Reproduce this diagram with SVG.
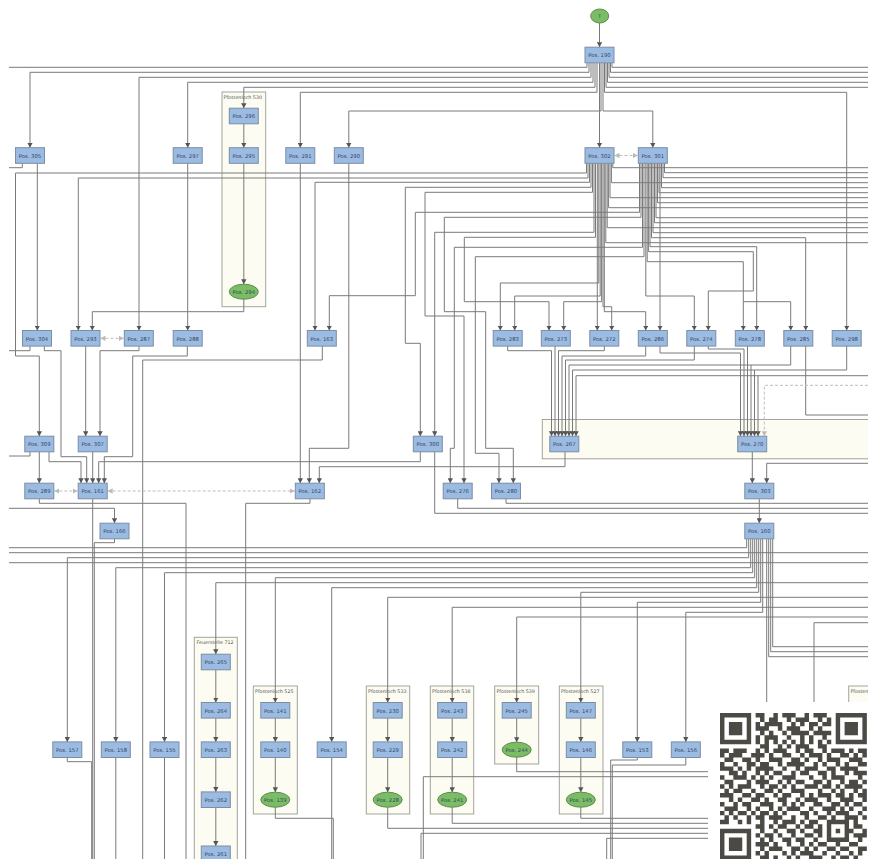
<svg xmlns="http://www.w3.org/2000/svg" width="873" height="859" viewBox="0 0 873 859">
<defs>
<style>
.n rect{fill:#9bbbe3;stroke:#7b8ea3;stroke-width:1}
.n text,.e text{font-family:"DejaVu Sans",Verdana,sans-serif;font-size:5.3px;fill:#34475c;text-anchor:middle;dominant-baseline:central}
.e ellipse{fill:#7bbd65;stroke:#5d8a52;stroke-width:1}
.c rect{fill:#fcfcf3;stroke:#a3a39c;stroke-width:1}
.c text{font-family:"DejaVu Sans",Verdana,sans-serif;font-size:4.8px;fill:#555}
#connectors path{fill:none;stroke:#7a7a7a;stroke-width:1}
#connectors .ar{marker-end:url(#a)}
#connectors .d{stroke:#bdbdbd;stroke-dasharray:3 2;marker-start:url(#b);marker-end:url(#b)}
#connectors .d1{stroke:#bdbdbd;stroke-dasharray:3 2;marker-end:url(#b)}
</style>
<marker id="a" markerUnits="userSpaceOnUse" markerWidth="5" markerHeight="5.4" viewBox="0 0 5 5.4" refX="5" refY="2.7" orient="auto"><path d="M0 0L5 2.7L0 5.4z" fill="#555"/></marker>
<marker id="b" markerUnits="userSpaceOnUse" markerWidth="5" markerHeight="5.4" viewBox="0 0 5 5.4" refX="5" refY="2.7" orient="auto-start-reverse"><path d="M0 0L5 2.7L0 5.4z" fill="#bbb"/></marker>
<clipPath id="view"><rect x="9" y="0" width="859" height="859"/></clipPath>
</defs>
<rect width="873" height="859" fill="#fff"/>
<g clip-path="url(#view)">
<g id="containers" class="c">
<g id="c530"><rect x="222" y="92" width="43.7" height="214.7"/><text x="223.5" y="98.5">Pfostenloch 530</text></g>
<g id="c267"><rect x="542.3" y="419.5" width="340" height="39.3"/></g>
<g id="c712"><rect x="194.3" y="637.3" width="43" height="240"/><text x="196.5" y="643.8">Feuerstelle 712</text></g>
<g id="c525"><rect x="253.3" y="686" width="44" height="128"/><text x="255" y="692.5">Pfostenloch 525</text></g>
<g id="c533"><rect x="366.3" y="686" width="43.4" height="128"/><text x="368" y="692.5">Pfostenloch 533</text></g>
<g id="c538"><rect x="430.3" y="686" width="43.4" height="128"/><text x="432" y="692.5">Pfostenloch 538</text></g>
<g id="c539"><rect x="494.7" y="686" width="44" height="78"/><text x="496.4" y="692.5">Pfostenloch 539</text></g>
<g id="c527"><rect x="559.3" y="686" width="43.7" height="128"/><text x="561" y="692.5">Pfostenloch 527</text></g>
<g id="cx"><rect x="848.7" y="686" width="60" height="100"/><text x="850.4" y="692.5">Pfosten</text></g>
</g>
<g id="connectors">
<path class="ar" d="M599.5 23V47.2"/>
<path class="ar" d="M589 62.8V72.3H30V147.7"/>
<path class="ar" d="M591 62.8V77.3H139V330.5"/>
<path class="ar" d="M593 62.8V82.3H187.7V147.7"/>
<path class="ar" d="M595 62.8V87.3H243.8V108.2"/>
<path class="ar" d="M597 62.8V92.3H300.3V147.7"/>
<path class="ar" d="M601 62.8V111H348.8V147.7"/>
<path class="ar" d="M599.5 62.8V147.7"/>
<path class="ar" d="M603 62.8V111H652.8V147.7"/>
<path class="ar" d="M604.5 62.8V92.3H846.7V330.5"/>
<path d="M587 62.8V67.3H9"/>
<path d="M612 62.8V67.3H868"/>
<path d="M610.5 62.8V72.3H868"/>
<path d="M609 62.8V77.3H868"/>
<path d="M607.5 62.8V82.3H868"/>
<path d="M606 62.8V87.3H868"/>
<path class="ar" d="M243.8 123.8V147.7"/>
<path class="ar" d="M243.8 163.3V284.2"/>
<path class="ar" d="M243.8 299.2V311.7H92.3V330.5"/>
<path class="ar" d="M37.3 163.3V330.5"/>
<path d="M22.3 163.3V167.7H9"/>
<path class="ar" d="M187.7 163.3V330.5"/>
<path class="ar" d="M300.3 163.3V483.2"/>
<path class="ar" d="M348.8 163.3V448.3H309.3V483.2"/>
<path class="ar" d="M586.5 163.3V173H15.5V356H39.3V436.2"/>
<path class="ar" d="M588 163.3V178H78.3V330.5"/>
<path class="ar" d="M589.5 163.3V182.3H315V330.5"/>
<path class="ar" d="M591 163.3V187.3H405.3V343.3H420.3V436.2"/>
<path class="ar" d="M592.5 163.3V192.3H425V316H464V483.2"/>
<path class="ar" d="M594 163.3V232.3H434.7V436.2"/>
<path class="ar" d="M595.5 163.3V237.3H464.3V301.7H549V330.5"/>
<path class="ar" d="M597.3 163.3V330.5"/>
<path class="ar" d="M598.8 163.3V283H500.3V330.5"/>
<path class="ar" d="M600.2 163.3V296H514.7V330.5"/>
<path class="ar" d="M601.6 163.3V301.7H563.7V330.5"/>
<path class="ar" d="M603 163.3V306.7H611.7V330.5"/>
<path class="ar" d="M604.3 163.3V311.7H645.7V330.5"/>
<path d="M605.8 163.3V242.7H868"/>
<path d="M607.2 163.3V227.7H868"/>
<path d="M608.6 163.3V207.7H868"/>
<path d="M610 163.3V197.7H868"/>
<path d="M611.4 163.3V182.7H868"/>
<path d="M612.8 163.3V167.7H868"/>
<path class="ar" d="M639.5 163.3V212.3H415.3V295.7H329.3V330.5"/>
<path class="ar" d="M641 163.3V217.3H444.3V311.7H485.7V448.3H513.3V483.2"/>
<path class="ar" d="M642.5 163.3V247.3H454.3V448.3H450.3V483.2"/>
<path class="ar" d="M644 163.3V256.7H475.3V453.3H499V483.2"/>
<path class="ar" d="M645.8 163.3V296H694.3V330.5"/>
<path class="ar" d="M647.2 163.3V261.7H743.3V330.5"/>
<path class="ar" d="M743.3 301.7H790.7V330.5"/>
<path class="ar" d="M648.6 163.3V251.7H753.3V291H708.3V330.5"/>
<path class="ar" d="M650 163.3V246.7H756.7V330.5"/>
<path class="ar" d="M660 163.3V330.5"/>
<path class="ar" d="M651.5 163.3V237.7H805.7V330.5"/>
<path d="M653 163.3V232.7H868"/>
<path d="M654.5 163.3V222.7H868"/>
<path d="M656 163.3V217.7H868"/>
<path d="M657.5 163.3V202.7H868"/>
<path d="M659 163.3V192.7H868"/>
<path d="M661.5 163.3V187.7H868"/>
<path d="M663 163.3V177.7H868"/>
<path d="M664.5 163.3V172.7H868"/>
<path class="ar" d="M85.7 346.1V436.2"/>
<path class="ar" d="M139 346.1V350.7H100V436.2"/>
<path class="ar" d="M44.3 346.1V350.7H61V456.7H86.7V483.2"/>
<path class="ar" d="M49 451.8V461.7H81V483.2"/>
<path class="ar" d="M39.3 451.8V483.2"/>
<path class="ar" d="M92.7 451.8V483.2"/>
<path class="ar" d="M187.3 346.1V356H132.7V456.7H104.3V483.2"/>
<path class="ar" d="M420.3 451.8V461.7H98.7V483.2"/>
<path class="ar" d="M565 451.8V466.7H319.3V483.2"/>
<path class="ar" d="M9 508.3H114.5V523.2"/>
<path class="ar" d="M752.3 451.8V483.2"/>
<path class="ar" d="M868 463.3H766.7V483.2"/>
<path class="ar" d="M759.3 498.8V523.2"/>
<path class="ar" d="M846.7 346.1V370H572.5V436.2"/>
<path class="ar" d="M754.5 370V436.2"/>
<path class="ar" d="M507.7 346.1V350.7H551.5V436.2"/>
<path class="ar" d="M555 346.1V436.2"/>
<path class="ar" d="M604.3 346.1V350.7H558.5V436.2"/>
<path class="ar" d="M645.7 346.1V356H562V436.2"/>
<path class="ar" d="M660 346.1V353H740.5V436.2"/>
<path class="ar" d="M694.3 346.1V360H565.5V436.2"/>
<path class="ar" d="M708.3 346.1V349H744V436.2"/>
<path class="ar" d="M747.5 346.1V436.2"/>
<path class="ar" d="M790.7 346.1V365H569V436.2"/>
<path class="ar" d="M751 365V436.2"/>
<path class="ar" d="M868 375.7H576V436.2"/>
<path class="ar" d="M758 375.7V436.2"/>
<path d="M30 346.1V350.7H9"/>
<path d="M30 451.8V456H9"/>
<path d="M322.3 346.1V360H142.7V859"/>
<path d="M805.7 346.1V415H868"/>
<path d="M434.7 451.8V513.3H868"/>
<path d="M457.7 498.8V508.3H868"/>
<path d="M506 498.8V503.3H868"/>
<path d="M39.3 498.8V503.3H186V859"/>
<path d="M310 498.8V503.3H245.7V859"/>
<path d="M92.7 498.8V859"/>
<path d="M114.5 538.8V542.7H94.3V859"/>
<path class="ar" d="M748.7 538.8V557.7H67.3V741.9"/>
<path class="ar" d="M750.7 538.8V567.7H115.8V741.9"/>
<path class="ar" d="M752.7 538.8V572.7H164.5V741.9"/>
<path class="ar" d="M754.7 538.8V577.7H275.3V702.5"/>
<path class="ar" d="M756.7 538.8V587.7H331.7V741.9"/>
<path class="ar" d="M758.7 538.8V592.3H580.8V702.5"/>
<path class="ar" d="M760.7 538.8V602.3H637.3V741.9"/>
<path class="ar" d="M762.7 538.8V612.3H685.8V741.9"/>
<path class="ar" d="M868 582.7H215.8V654.2"/>
<path class="ar" d="M868 597.3H387.7V702.5"/>
<path class="ar" d="M868 607.3H452.2V702.5"/>
<path class="ar" d="M868 617H516.7V702.5"/>
<path d="M746.7 538.8V547.7H9"/>
<path d="M766.7 538.8V702"/>
<path d="M768.7 538.8V656.7H868"/>
<path d="M770.7 538.8V651.7H868"/>
<path d="M772.7 538.8V646.7H868"/>
<path d="M868 552.7H9"/>
<path d="M868 562.7H9"/>
<path d="M868 622.7H814V702"/>
<path class="ar" d="M215.8 669.8V702.5"/>
<path class="ar" d="M215.8 718.1V741.9"/>
<path class="ar" d="M215.8 757.5V791.9"/>
<path class="ar" d="M215.8 807.5V846"/>
<path class="ar" d="M275.3 718.1V741.9"/>
<path class="ar" d="M275.3 757.5V792.2"/>
<path class="ar" d="M387.7 718.1V741.9"/>
<path class="ar" d="M387.7 757.5V792.2"/>
<path class="ar" d="M452.2 718.1V741.9"/>
<path class="ar" d="M452.2 757.5V792.2"/>
<path class="ar" d="M516.7 718.1V742.2"/>
<path class="ar" d="M580.8 718.1V741.9"/>
<path class="ar" d="M580.8 757.5V792.2"/>
<path d="M275.3 807.2V818.3H333.3V859"/>
<path d="M387.7 807.2V828.3H708"/>
<path d="M452.2 807.2V823.3H708"/>
<path d="M516.7 757.2V771.7H708"/>
<path d="M580.8 807.2V818.3H708"/>
<path d="M67.3 757.5V761.7H91.7V859"/>
<path d="M115.8 757.5V859"/>
<path d="M164.5 757.5V859"/>
<path d="M331.7 757.5V859"/>
<path d="M637.3 757.5V760H610.7V859"/>
<path d="M685.8 757.5V765H612.3V859"/>
<path d="M708 776.7H423.3V859"/>
<path d="M708 833.3H421V859"/>
<path d="M708 838.3H606.7V859"/>
<path class="d" d="M614.5 155.5H637.8"/>
<path class="d" d="M100.5 338.3H123.8"/>
<path class="d" d="M54.3 491H77.7"/>
<path class="d" d="M107.7 491H294.8"/>
<path class="d1" d="M868 385.3H764.3V436.2"/>
</g>
<g id="nodes">
<g id="nT" class="e"><ellipse cx="599.7" cy="16" rx="9" ry="7"/><text x="599.7" y="16.2">T</text></g>
<g id="n190" class="n"><rect x="585" y="47.2" width="29" height="15.6"/><text x="599.5" y="55.2">Pos. 190</text></g>
<g id="n296" class="n"><rect x="229.3" y="108.2" width="29" height="15.6"/><text x="243.8" y="116.2">Pos. 296</text></g>
<g id="n305" class="n"><rect x="15.5" y="147.7" width="29" height="15.6"/><text x="30" y="155.7">Pos. 305</text></g>
<g id="n297" class="n"><rect x="173.2" y="147.7" width="29" height="15.6"/><text x="187.7" y="155.7">Pos. 297</text></g>
<g id="n295" class="n"><rect x="229.3" y="147.7" width="29" height="15.6"/><text x="243.8" y="155.7">Pos. 295</text></g>
<g id="n291" class="n"><rect x="285.8" y="147.7" width="29" height="15.6"/><text x="300.3" y="155.7">Pos. 291</text></g>
<g id="n290" class="n"><rect x="334.3" y="147.7" width="29" height="15.6"/><text x="348.8" y="155.7">Pos. 290</text></g>
<g id="n302" class="n"><rect x="585" y="147.7" width="29" height="15.6"/><text x="599.5" y="155.7">Pos. 302</text></g>
<g id="n301" class="n"><rect x="638.3" y="147.7" width="29" height="15.6"/><text x="652.8" y="155.7">Pos. 301</text></g>
<g id="n294" class="e"><ellipse cx="243.8" cy="291.7" rx="14.5" ry="7.5"/><text x="243.8" y="291.9">Pos. 294</text></g>
<g id="n304" class="n"><rect x="22.5" y="330.5" width="29" height="15.6"/><text x="37" y="338.5">Pos. 304</text></g>
<g id="n293" class="n"><rect x="71" y="330.5" width="29" height="15.6"/><text x="85.5" y="338.5">Pos. 293</text></g>
<g id="n287" class="n"><rect x="124.3" y="330.5" width="29" height="15.6"/><text x="138.8" y="338.5">Pos. 287</text></g>
<g id="n288" class="n"><rect x="173.2" y="330.5" width="29" height="15.6"/><text x="187.7" y="338.5">Pos. 288</text></g>
<g id="n163" class="n"><rect x="307.3" y="330.5" width="29" height="15.6"/><text x="321.8" y="338.5">Pos. 163</text></g>
<g id="n283" class="n"><rect x="493.2" y="330.5" width="29" height="15.6"/><text x="507.7" y="338.5">Pos. 283</text></g>
<g id="n273" class="n"><rect x="541.3" y="330.5" width="29" height="15.6"/><text x="555.8" y="338.5">Pos. 273</text></g>
<g id="n272" class="n"><rect x="589.8" y="330.5" width="29" height="15.6"/><text x="604.3" y="338.5">Pos. 272</text></g>
<g id="n286" class="n"><rect x="638.3" y="330.5" width="29" height="15.6"/><text x="652.8" y="338.5">Pos. 286</text></g>
<g id="n274" class="n"><rect x="686.8" y="330.5" width="29" height="15.6"/><text x="701.3" y="338.5">Pos. 274</text></g>
<g id="n278" class="n"><rect x="735.3" y="330.5" width="29" height="15.6"/><text x="749.8" y="338.5">Pos. 278</text></g>
<g id="n285" class="n"><rect x="783.8" y="330.5" width="29" height="15.6"/><text x="798.3" y="338.5">Pos. 285</text></g>
<g id="n298" class="n"><rect x="832.2" y="330.5" width="29" height="15.6"/><text x="846.7" y="338.5">Pos. 298</text></g>
<g id="n309" class="n"><rect x="24.8" y="436.2" width="29" height="15.6"/><text x="39.3" y="444.2">Pos. 309</text></g>
<g id="n307" class="n"><rect x="78.2" y="436.2" width="29" height="15.6"/><text x="92.7" y="444.2">Pos. 307</text></g>
<g id="n300" class="n"><rect x="413.3" y="436.2" width="29" height="15.6"/><text x="427.8" y="444.2">Pos. 300</text></g>
<g id="n267" class="n"><rect x="549.8" y="436.2" width="29" height="15.6"/><text x="564.3" y="444.2">Pos. 267</text></g>
<g id="n270" class="n"><rect x="737.7" y="436.2" width="29" height="15.6"/><text x="752.2" y="444.2">Pos. 270</text></g>
<g id="n289" class="n"><rect x="24.8" y="483.2" width="29" height="15.6"/><text x="39.3" y="491.2">Pos. 289</text></g>
<g id="n161" class="n"><rect x="78.2" y="483.2" width="29" height="15.6"/><text x="92.7" y="491.2">Pos. 161</text></g>
<g id="n162" class="n"><rect x="295.3" y="483.2" width="29" height="15.6"/><text x="309.8" y="491.2">Pos. 162</text></g>
<g id="n276" class="n"><rect x="443.2" y="483.2" width="29" height="15.6"/><text x="457.7" y="491.2">Pos. 276</text></g>
<g id="n280" class="n"><rect x="491.5" y="483.2" width="29" height="15.6"/><text x="506" y="491.2">Pos. 280</text></g>
<g id="n303" class="n"><rect x="744.8" y="483.2" width="29" height="15.6"/><text x="759.3" y="491.2">Pos. 303</text></g>
<g id="n166" class="n"><rect x="100" y="523.2" width="29" height="15.6"/><text x="114.5" y="531.2">Pos. 166</text></g>
<g id="n160" class="n"><rect x="744.8" y="523.2" width="29" height="15.6"/><text x="759.3" y="531.2">Pos. 160</text></g>
<g id="n265" class="n"><rect x="201.3" y="654.2" width="29" height="15.6"/><text x="215.8" y="662.2">Pos. 265</text></g>
<g id="n264" class="n"><rect x="201.3" y="702.5" width="29" height="15.6"/><text x="215.8" y="710.5">Pos. 264</text></g>
<g id="n263" class="n"><rect x="201.3" y="741.9" width="29" height="15.6"/><text x="215.8" y="749.9">Pos. 263</text></g>
<g id="n262" class="n"><rect x="201.3" y="791.9" width="29" height="15.6"/><text x="215.8" y="799.9">Pos. 262</text></g>
<g id="n261" class="n"><rect x="201.3" y="846" width="29" height="15.6"/><text x="215.8" y="854">Pos. 261</text></g>
<g id="n141" class="n"><rect x="260.8" y="702.5" width="29" height="15.6"/><text x="275.3" y="710.5">Pos. 141</text></g>
<g id="n140" class="n"><rect x="260.8" y="741.9" width="29" height="15.6"/><text x="275.3" y="749.9">Pos. 140</text></g>
<g id="n139" class="e"><ellipse cx="275.3" cy="799.7" rx="14.5" ry="7.5"/><text x="275.3" y="799.9">Pos. 139</text></g>
<g id="n157" class="n"><rect x="52.8" y="741.9" width="29" height="15.6"/><text x="67.3" y="749.9">Pos. 157</text></g>
<g id="n158" class="n"><rect x="101.3" y="741.9" width="29" height="15.6"/><text x="115.8" y="749.9">Pos. 158</text></g>
<g id="n155" class="n"><rect x="150" y="741.9" width="29" height="15.6"/><text x="164.5" y="749.9">Pos. 155</text></g>
<g id="n154" class="n"><rect x="317.2" y="741.9" width="29" height="15.6"/><text x="331.7" y="749.9">Pos. 154</text></g>
<g id="n230" class="n"><rect x="373.2" y="702.5" width="29" height="15.6"/><text x="387.7" y="710.5">Pos. 230</text></g>
<g id="n229" class="n"><rect x="373.2" y="741.9" width="29" height="15.6"/><text x="387.7" y="749.9">Pos. 229</text></g>
<g id="n228" class="e"><ellipse cx="387.7" cy="799.7" rx="14.5" ry="7.5"/><text x="387.7" y="799.9">Pos. 228</text></g>
<g id="n243" class="n"><rect x="437.7" y="702.5" width="29" height="15.6"/><text x="452.2" y="710.5">Pos. 243</text></g>
<g id="n242" class="n"><rect x="437.7" y="741.9" width="29" height="15.6"/><text x="452.2" y="749.9">Pos. 242</text></g>
<g id="n241" class="e"><ellipse cx="452.2" cy="799.7" rx="14.5" ry="7.5"/><text x="452.2" y="799.9">Pos. 241</text></g>
<g id="n245" class="n"><rect x="502.2" y="702.5" width="29" height="15.6"/><text x="516.7" y="710.5">Pos. 245</text></g>
<g id="n244" class="e"><ellipse cx="516.7" cy="749.7" rx="14.5" ry="7.5"/><text x="516.7" y="749.9">Pos. 244</text></g>
<g id="n147" class="n"><rect x="566.3" y="702.5" width="29" height="15.6"/><text x="580.8" y="710.5">Pos. 147</text></g>
<g id="n146" class="n"><rect x="566.3" y="741.9" width="29" height="15.6"/><text x="580.8" y="749.9">Pos. 146</text></g>
<g id="n145" class="e"><ellipse cx="580.8" cy="799.7" rx="14.5" ry="7.5"/><text x="580.8" y="799.9">Pos. 145</text></g>
<g id="n153" class="n"><rect x="622.8" y="741.9" width="29" height="15.6"/><text x="637.3" y="749.9">Pos. 153</text></g>
<g id="n156" class="n"><rect x="671.3" y="741.9" width="29" height="15.6"/><text x="685.8" y="749.9">Pos. 156</text></g>
</g>
</g>
<g id="qr">
<rect x="708" y="702" width="165" height="157" fill="#fff"/>
<g transform="translate(720 713) scale(4.45)">
<path fill="#4b4a45" fill-rule="evenodd" d="M0 0h7v7H0zM1 1v5h5V1zM2 2h3v3H2zM26 0h7v7h-7zM27 1v5h5V1zM28 2h3v3h-3zM0 26h7v7H0zM1 27v5h5v-5zM2 28h3v3H2z"/>
<path fill="none" stroke="#4b4a45" stroke-width="1" d="M8 0.5h2M12 0.5h1M14 0.5h3M19 0.5h1M21 0.5h3M9 1.5h1M11 1.5h2M15 1.5h1M17 1.5h3M22 1.5h1M24 1.5h1M8 2.5h1M10 2.5h4M16 2.5h1M18 2.5h1M20 2.5h2M23 2.5h2M8 3.5h3M13 3.5h1M15 3.5h3M20 3.5h1M22 3.5h1M9 4.5h1M11 4.5h1M14 4.5h1M16 4.5h4M21 4.5h4M8 5.5h1M10 5.5h3M15 5.5h1M18 5.5h1M20 5.5h1M23 5.5h1M8 6.5h1M10 6.5h1M12 6.5h1M14 6.5h1M16 6.5h1M18 6.5h1M20 6.5h1M22 6.5h1M24 6.5h1M9 7.5h2M13 7.5h1M15 7.5h1M17 7.5h3M22 7.5h2M0 8.5h2M3 8.5h3M8 8.5h1M10 8.5h1M12 8.5h3M17 8.5h1M19 8.5h2M23 8.5h1M25 8.5h3M29 8.5h1M31 8.5h2M0 9.5h1M2 9.5h3M7 9.5h3M11 9.5h1M14 9.5h2M18 9.5h1M20 9.5h3M24 9.5h1M27 9.5h2M30 9.5h1M32 9.5h1M1 10.5h2M5 10.5h2M8 10.5h1M11 10.5h3M16 10.5h2M19 10.5h1M22 10.5h1M24 10.5h3M29 10.5h3M0 11.5h1M3 11.5h1M6 11.5h2M9 11.5h2M13 11.5h1M15 11.5h4M21 11.5h1M23 11.5h1M26 11.5h1M28 11.5h1M31 11.5h2M0 12.5h3M4 12.5h1M6 12.5h1M8 12.5h4M14 12.5h1M17 12.5h1M19 12.5h3M24 12.5h2M27 12.5h4M2 13.5h2M5 13.5h1M8 13.5h1M10 13.5h1M12 13.5h2M16 13.5h1M18 13.5h2M22 13.5h2M25 13.5h1M28 13.5h1M30 13.5h3M0 14.5h1M3 14.5h3M7 14.5h1M9 14.5h1M11 14.5h1M14 14.5h3M20 14.5h1M23 14.5h1M25 14.5h3M31 14.5h1M1 15.5h2M6 15.5h1M8 15.5h3M13 15.5h1M15 15.5h1M17 15.5h2M21 15.5h2M24 15.5h1M27 15.5h1M29 15.5h2M32 15.5h1M0 16.5h1M2 16.5h1M4 16.5h3M9 16.5h1M11 16.5h2M14 16.5h1M16 16.5h1M19 16.5h3M23 16.5h2M26 16.5h1M28 16.5h4M1 17.5h1M3 17.5h2M7 17.5h1M10 17.5h2M13 17.5h1M16 17.5h3M22 17.5h1M25 17.5h1M27 17.5h1M30 17.5h1M32 17.5h1M0 18.5h3M5 18.5h2M8 18.5h2M12 18.5h1M14 18.5h2M18 18.5h1M20 18.5h1M22 18.5h3M26 18.5h2M29 18.5h1M31 18.5h2M2 19.5h1M4 19.5h1M7 19.5h2M10 19.5h1M13 19.5h2M17 19.5h1M19 19.5h3M24 19.5h1M27 19.5h3M32 19.5h1M0 20.5h1M3 20.5h1M5 20.5h2M9 20.5h3M14 20.5h1M16 20.5h1M18 20.5h1M21 20.5h2M25 20.5h2M28 20.5h1M30 20.5h2M1 21.5h3M6 21.5h1M8 21.5h1M11 21.5h1M13 21.5h1M15 21.5h3M20 21.5h1M23 21.5h3M27 21.5h1M29 21.5h1M32 21.5h1M0 22.5h1M2 22.5h1M4 22.5h2M7 22.5h1M9 22.5h2M12 22.5h1M14 22.5h1M18 22.5h2M21 22.5h1M24 22.5h1M26 22.5h3M31 22.5h1M1 23.5h1M3 23.5h1M6 23.5h1M8 23.5h2M11 23.5h3M16 23.5h1M19 23.5h1M22 23.5h2M25 23.5h1M28 23.5h3M32 23.5h1M0 24.5h2M4 24.5h1M6 24.5h1M9 24.5h1M12 24.5h1M14 24.5h3M18 24.5h1M20 24.5h2M24 24.5h5M30 24.5h1M8 25.5h2M11 25.5h1M13 25.5h2M17 25.5h1M19 25.5h2M22 25.5h1M24 25.5h1M28 25.5h1M30 25.5h2M9 26.5h1M12 26.5h1M15 26.5h2M18 26.5h1M21 26.5h2M24 26.5h1M26 26.5h1M28 26.5h2M32 26.5h1M8 27.5h1M10 27.5h2M13 27.5h1M16 27.5h1M19 27.5h2M22 27.5h1M24 27.5h1M28 27.5h1M30 27.5h3M9 28.5h1M11 28.5h1M14 28.5h2M17 28.5h2M21 28.5h1M24 28.5h5M31 28.5h1M8 29.5h3M12 29.5h1M15 29.5h1M18 29.5h1M20 29.5h1M22 29.5h2M26 29.5h1M29 29.5h2M9 30.5h1M11 30.5h3M16 30.5h2M19 30.5h1M21 30.5h1M24 30.5h2M27 30.5h2M31 30.5h2M8 31.5h1M10 31.5h1M14 31.5h1M16 31.5h1M18 31.5h3M23 31.5h1M26 31.5h1M29 31.5h1M31 31.5h1M9 32.5h2M12 32.5h1M15 32.5h1M17 32.5h1M20 32.5h3M25 32.5h1M27 32.5h2M30 32.5h1"/>
</g>
</g>
</svg>
